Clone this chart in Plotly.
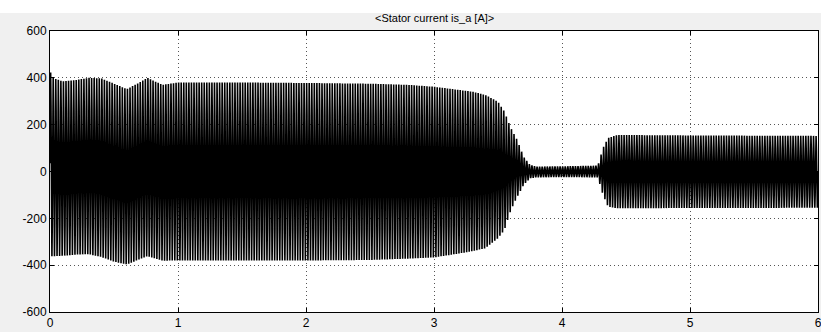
import numpy as np
import plotly.graph_objects as go

# Envelope of the stator current
t_env = [0, 0.02, 0.1, 0.2, 0.3, 0.4, 0.5, 0.6, 0.7, 0.76, 0.88, 1.0, 1.5, 2.0, 2.5,
         2.8, 3.0, 3.2, 3.3, 3.4, 3.5, 3.55, 3.6, 3.65, 3.7, 3.75, 3.8, 4.0, 4.28,
         4.32, 4.36, 4.43, 5.0, 6.0]
upper_env = [430, 400, 385, 390, 400, 398, 375, 352, 380, 400, 370, 380, 380, 378, 375,
             370, 362, 348, 341, 327, 298, 256, 186, 135, 63, 28, 21, 22, 25,
             100, 143, 156, 154, 152]
lower_env = [-360, -362, -360, -355, -353, -365, -385, -397, -375, -362, -381, -380, -380, -380, -378,
             -372, -367, -350, -340, -328, -285, -250, -165, -108, -58, -29, -25, -24, -25,
             -100, -150, -157, -156, -155]
supply_freq_hz = 50.0
sample_step_s = 2e-4

x_ticks = [0, 1, 2, 3, 4, 5, 6]
y_ticks = [-600, -400, -200, 0, 200, 400, 600]
y_tick_text = ["-600", "-400", "-200", "0", "200", "400", "600"]
title_text = "<Stator current is_a [A]>"

t = np.arange(0, 6 + sample_step_s / 2, sample_step_s)
up = np.interp(t, t_env, upper_env)
lo = np.interp(t, t_env, lower_env)
mid = (up + lo) / 2
amp = (up - lo) / 2
current = mid + amp * np.sin(2 * np.pi * supply_freq_hz * t)

fig = go.Figure()
fig.add_trace(go.Scatter(x=t, y=current, mode="lines",
                         line=dict(color="black", width=1.6), hoverinfo="skip",
                         showlegend=False))

axis_common = dict(showline=True, linecolor="black", linewidth=1, mirror="ticks",
                   ticks="inside", ticklen=4, tickcolor="black",
                   showgrid=True, gridcolor="#555555", griddash="1px,3px", gridwidth=1,
                   zeroline=False, ticklabeloverflow="allow", automargin=False,
                   tickfont=dict(family="Liberation Sans, Arial, sans-serif", size=12, color="black"))

fig.update_xaxes(range=[0, 6], tickvals=x_ticks, ticktext=[str(v) for v in x_ticks], **axis_common)
fig.update_yaxes(range=[-600, 600], tickvals=y_ticks, ticktext=y_tick_text, **axis_common)

plot_h = 332 - 31 - 20
fig.add_shape(type="rect", xref="paper", yref="paper", x0=-0.1, x1=1.1,
              y0=1 + (31 - 13) / plot_h, y1=1 + 31 / plot_h + 0.01,
              fillcolor="white", line=dict(width=0), layer="below")

fig.add_annotation(text=title_text, xref="paper", yref="paper", x=0.5,
                   y=1 + (31 - 18) / plot_h, yanchor="middle", showarrow=False,
                   font=dict(family="Liberation Sans, Arial, sans-serif", size=11, color="black"))

fig.update_layout(width=821, height=332, margin=dict(l=50, r=3, t=31, b=20, autoexpand=False),
                  paper_bgcolor="#f0f0f0", plot_bgcolor="white")

fig.write_html("out.html", config={"displayModeBar": False},
               post_script="document.body.style.margin='0';document.body.style.padding='0';")
